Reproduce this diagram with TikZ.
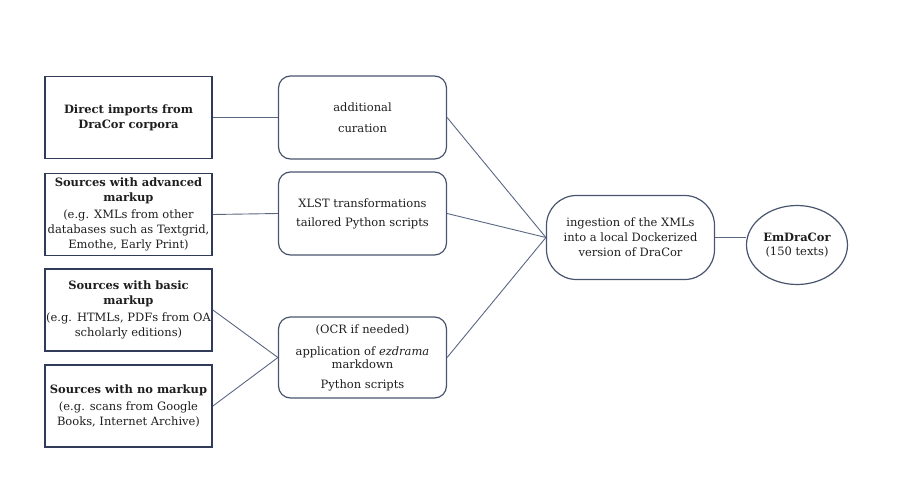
\documentclass[tikz,border=0pt]{standalone}
\usepackage{fontspec}
\setmainfont{DejaVu Serif}
\usetikzlibrary{shapes.geometric}
\definecolor{boxc}{HTML}{2F3B58}
\definecolor{rbc}{HTML}{48546E}
\definecolor{linec}{HTML}{5A6782}
\definecolor{txt}{HTML}{1E1E1E}
\begin{document}
\begin{tikzpicture}[x=1pt,y=-1pt,
  font=\fontsize{11.5}{15}\selectfont,
  src/.style={draw=boxc, line width=1.8pt, minimum width=167pt, minimum height=82pt, inner sep=0pt, align=center, text=txt},
  proc/.style={draw=rbc, line width=1.2pt, rounded corners=12pt, minimum width=168pt, minimum height=83pt, inner sep=0pt, align=center, text=txt},
  ingbox/.style={draw=rbc, line width=1.2pt, rounded corners=30pt, minimum width=168pt, minimum height=84pt, inner sep=0pt, align=center, text=txt},
  endell/.style={draw=rbc, line width=1.2pt, ellipse, minimum width=101pt, minimum height=79pt, inner sep=0pt, align=center, text=txt},
  conn/.style={draw=linec, line width=0.9pt}]
\useasboundingbox (0,0) rectangle (905,498);
\node[src] (b1) at (128.5,117.5) {\textbf{Direct imports from}\\\textbf{DraCor corpora}};
\node[src] (b2) at (128.5,214.5) {\textbf{Sources with advanced}\\\textbf{markup}\\[2pt](e.g. XMLs from other\\databases such as Textgrid,\\Emothe, Early Print)};
\node[src] (b3) at (128.5,310) {\textbf{Sources with basic}\\\textbf{markup}\\[2pt](e.g. HTMLs, PDFs from OA\\scholarly editions)};
\node[src] (b4) at (128.5,406) {\textbf{Sources with no markup}\\[2pt](e.g. scans from Google\\Books, Internet Archive)};
\node[proc] (pa) at (362.5,117.5) {additional\\[6pt]curation};
\node[proc] (pb) at (362.5,213.5) {XLST transformations\\[4pt]tailored Python scripts};
\node[proc, minimum height=81pt] (pc) at (362.5,357.5) {(OCR if needed)\\[7pt]application of \textit{ezdrama}\\[-2pt]markdown\\[5pt]Python scripts};
\node[ingbox] (ing) at (630.5,237.5) {ingestion of the XMLs\\into a local Dockerized\\version of DraCor};
\node[endell] (emd) at (797,245) {\textbf{EmDraCor}\\[-1pt](150 texts)};
\draw[conn] (b1.east) -- (pa.west);
\draw[conn] (b2.east) -- (pb.west);
\draw[conn] (b3.east) -- (pc.west);
\draw[conn] (b4.east) -- (pc.west);
\draw[conn] (pa.east) -- (ing.west);
\draw[conn] (pb.east) -- (ing.west);
\draw[conn] (pc.east) -- (ing.west);
\draw[conn] (ing.east) -- (emd.west |- ing.east);
\end{tikzpicture}
\end{document}
